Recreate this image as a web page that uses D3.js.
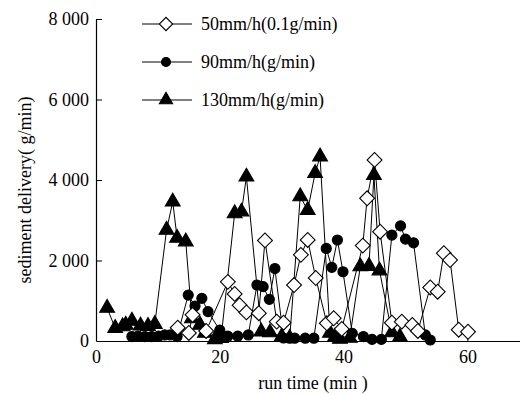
<!DOCTYPE html>
<html>
<head>
<meta charset="utf-8">
<script src="https://cdn.jsdelivr.net/npm/d3@7"></script>
<style>
  body { margin: 0; background: #fff; }
  text { font-family: "Liberation Serif", "Times New Roman", serif; fill: #000; }
</style>
</head>
<body>
<div id="chart"></div>
<script>
// run time (min) and sediment delivery for each rainfall intensity
const t130 = [1.8, 3.1, 4.3, 4.8, 5.8, 7.2, 8.4, 9.5, 11.4, 12.4, 13.1, 14.5, 15.5, 16.8, 17.6, 19.2, 20.2,
  22.4, 23.5, 24.3, 26.7, 28.1, 30.0, 31.3, 33.0, 34.2, 35.4, 36.2, 37.8, 38.6, 39.4, 41.0,
  42.7, 44.1, 44.9, 45.8, 47.8, 49.1];
const v130 = [820, 320, 360, 400, 500, 380, 370, 420, 2760, 3460, 2560, 2470, 560, 400, 200, 40, 70,
  3170, 3210, 4080, 230, 210, 110, 75, 3590, 3250, 4170, 4580, 200, 100, 50, 75,
  1850, 1860, 4120, 1750, 210, 100];

const t90 = [5.8, 6.8, 7.9, 9.0, 10.1, 11.1, 12.0, 13.1, 14.9, 16.0, 17.1, 18.1, 20.0, 21.3, 22.9, 24.6,
  26.0, 27.0, 28.0, 28.9, 30.3, 31.3, 32.1, 33.8, 35.2, 37.2, 38.1, 39.0, 39.9, 41.4, 43.2,
  44.6, 46.1, 47.8, 49.2, 50.0, 51.3, 53.2, 54.0];
const v90 = [110, 120, 110, 110, 120, 150, 150, 110, 1140, 870, 1060, 730, 270, 120, 120, 150,
  1390, 1350, 1035, 1800, 75, 70, 70, 70, 70, 2300, 1830, 2510, 1720, 190, 110,
  40, 40, 2630, 2860, 2530, 2440, 150, 25];

const t50 = [13.2, 15.0, 15.6, 17.8, 21.3, 22.4, 23.2, 24.3, 26.3, 27.3, 29.2, 30.3, 32.0, 33.1, 34.2,
  35.5, 37.3, 38.4, 39.7, 43.1, 43.8, 45.0, 45.9, 47.8, 49.4, 51.1, 52.0, 54.0, 55.2, 56.2,
  57.2, 58.6, 60.1];
const v50 = [330, 200, 650, 250, 1470, 1170, 890, 710, 690, 2500, 480, 455, 1390, 2140, 2510,
  1565, 440, 565, 300, 2370, 3545, 4500, 2715, 455, 480, 400, 250, 1330, 1225, 2180,
  2010, 280, 230];

const xTicks = [0, 20, 40, 60];
const yTicks = [0, 2000, 4000, 6000, 8000];
const legendLabels = ["50mm/h(0.1g/min)", "90mm/h(g/min)", "130mm/h(g/min)"];

const width = 520;
const height = 394;
const plot = { left: 96, right: 520, top: 19, bottom: 341 };

const svg = d3.select("#chart")
  .append("svg")
  .attr("width", width)
  .attr("height", height);

const x = d3.scaleLinear().domain([0, 68.5]).range([plot.left, plot.right]);
const y = d3.scaleLinear().domain([0, 8000]).range([plot.bottom, plot.top]);

const fmt = (d) => (d === 0 ? "0" : d3.format(",")(d).replace(",", " "));

// axes
const xAxis = svg.append("g")
  .attr("transform", `translate(0,${plot.bottom})`)
  .call(d3.axisBottom(x).tickValues(xTicks).tickSize(-5).tickPadding(9).tickSizeOuter(0));
xAxis.selectAll("text").style("font-size", "18px");

const yAxis = svg.append("g")
  .attr("transform", `translate(${plot.left},0)`)
  .call(d3.axisLeft(y).tickValues(yTicks).tickFormat(fmt).tickSize(-6).tickPadding(7).tickSizeOuter(0));
yAxis.selectAll("text").style("font-size", "18px");
yAxis.selectAll(".tick line").filter((d) => d === 0).remove();

svg.selectAll(".domain").attr("stroke", "#000").attr("stroke-width", 1.2);
svg.selectAll(".tick line").attr("stroke", "#000");

svg.append("text")
  .attr("x", 313)
  .attr("y", 389)
  .attr("text-anchor", "middle")
  .style("font-size", "18px")
  .text("run time (min )");

svg.append("text")
  .attr("transform", "translate(31,190) rotate(-90)")
  .attr("text-anchor", "middle")
  .style("font-size", "18px")
  .text("sediment delivery( g/min)");

// series
const series = [
  { t: t130, v: v130, shape: d3.symbolTriangle, size: 95, fill: "#000", rot: 0 },
  { t: t90, v: v90, shape: d3.symbolCircle, size: 80, fill: "#000", rot: 0 },
  { t: t50, v: v50, shape: d3.symbolSquare, size: 110, fill: "#fff", rot: 45 },
];

const line = d3.line().x((d) => x(d[0])).y((d) => y(d[1]));

series.forEach((s) => {
  const pts = s.t.map((t, i) => [t, s.v[i]]);
  svg.append("path")
    .datum(pts)
    .attr("d", line)
    .attr("fill", "none")
    .attr("stroke", "#000")
    .attr("stroke-width", 1);
});

series.forEach((s) => {
  const pts = s.t.map((t, i) => [t, s.v[i]]);
  svg.append("g")
    .selectAll("path")
    .data(pts)
    .enter()
    .append("path")
    .attr("d", d3.symbol().type(s.shape).size(s.size))
    .attr("transform", (d) => `translate(${x(d[0])},${y(d[1])}) rotate(${s.rot})`)
    .attr("fill", s.fill)
    .attr("stroke", "#000")
    .attr("stroke-width", 1.1);
});

// legend
const legendSeries = [series[2], series[1], series[0]];
const legend = svg.append("g");
legendLabels.forEach((label, i) => {
  const ly = 24 + i * 38;
  const s = legendSeries[i];
  legend.append("line")
    .attr("x1", 142).attr("x2", 192)
    .attr("y1", ly).attr("y2", ly)
    .attr("stroke", "#000");
  legend.append("path")
    .attr("d", d3.symbol().type(s.shape).size(s.size * 0.8))
    .attr("transform", `translate(166,${ly}) rotate(${s.rot})`)
    .attr("fill", s.fill)
    .attr("stroke", "#000")
    .attr("stroke-width", 1.1);
  legend.append("text")
    .attr("x", 201)
    .attr("y", ly + 6)
    .style("font-size", "18px")
    .text(label);
});
</script>
</body>
</html>
